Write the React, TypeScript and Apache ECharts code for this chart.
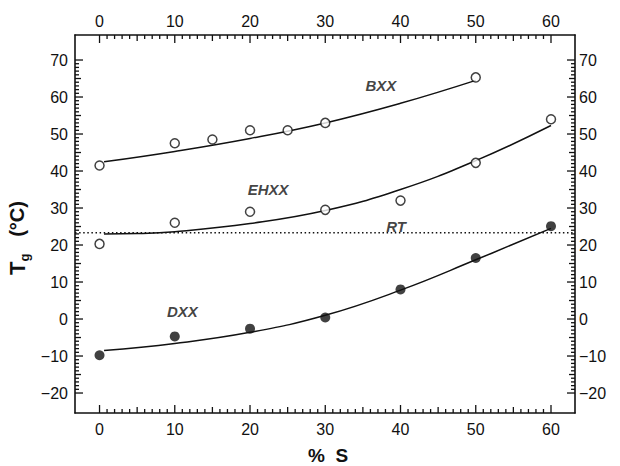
import React, { useEffect, useRef } from "react";
import * as echarts from "echarts";

// ---- data ----
const xMajor = [0, 10, 20, 30, 40, 50, 60];
const yMajor = [-20, -10, 0, 10, 20, 30, 40, 50, 60, 70];

const bxxX = [0, 10, 15, 20, 25, 30, 50];
const bxxY = [41.5, 47.5, 48.5, 51, 51, 53, 65.3];
const ehxxX = [0, 10, 20, 30, 40, 50, 60];
const ehxxY = [20.3, 26, 29, 29.5, 32, 42.2, 54];
const dxxX = [0, 10, 20, 30, 40, 50, 60];
const dxxY = [-9.8, -4.7, -2.6, 0.4, 8, 16.5, 25.1];

const bxxFitX = [0.6, 10, 20, 30, 40, 50];
const bxxFitY = [42.5, 45.3, 48.8, 53, 58.3, 64.5];
const ehxxFitX = [0.6, 5, 10, 20, 30, 40, 50, 60];
const ehxxFitY = [23, 23.1, 23.6, 25.8, 29.3, 35, 42.8, 52.3];
const dxxFitX = [0.6, 10, 20, 30, 40, 50, 60];
const dxxFitY = [-8.5, -6.6, -3.6, 1.0, 7.8, 16.0, 24.5];

const rtValue = 23.3;

const labelNames = ["BXX", "EHXX", "RT", "DXX"];
const labelX = [37.4, 22.4, 39.4, 11.0];
const labelY = [63.0, 35.1, 25.1, 1.9];

// ---- axis extents (the frame) ----
const X_MIN = -3.26;
const X_MAX = 63.19;
const Y_MIN = -25.4;
const Y_MAX = 76.76;

const W = 620;
const H = 466;

// tick marks: every unit, longer at 5s, longest at 10s
const tickLen = (v: number) => (v % 10 === 0 ? 8 : Math.abs(v % 5) === 0 ? 6 : 4);
const xTicks: number[][] = [];
for (let v = xMajor[0]; v <= xMajor[xMajor.length - 1]; v++) xTicks.push([v, tickLen(v)]);
const yTicks: number[][] = [];
for (let v = yMajor[0]; v <= yMajor[yMajor.length - 1]; v++) yTicks.push([v, tickLen(v)]);

const pairs = (xs: number[], ys: number[]) => xs.map((x, i) => [x, ys[i]]);

const FONT = "'Liberation Sans', Arial, Helvetica, sans-serif";
const INK = "#111";

function xAx(position: "top" | "bottom") {
  return {
    type: "value",
    position,
    min: X_MIN,
    max: X_MAX,
    axisLine: { show: true, onZero: false, lineStyle: { color: INK, width: 1.6 } },
    axisTick: { show: false },
    axisLabel: {
      show: true,
      customValues: xMajor,
      margin: position === "top" ? 6 : 8,
      color: INK,
      fontSize: 16,
      fontFamily: FONT,
    },
    splitLine: { show: false },
  };
}
function yAx(position: "left" | "right") {
  return {
    type: "value",
    position,
    min: Y_MIN,
    max: Y_MAX,
    axisLine: { show: true, onZero: false, lineStyle: { color: INK, width: 1.6 } },
    axisTick: { show: false },
    axisLabel: {
      show: true,
      customValues: yMajor,
      margin: position === "left" ? 7 : 4,
      color: INK,
      fontSize: 16,
      fontFamily: FONT,
      formatter: (v: number) => (v < 0 ? "\u2212" + Math.abs(v) : String(v)),
    },
    splitLine: { show: false },
  };
}

export default function App() {
  const ref = useRef<HTMLDivElement>(null);
  useEffect(() => {
    if (!ref.current) return;
    const chart = echarts.init(ref.current, null, { renderer: "svg" });
    const curve = (name: string, xs: number[], ys: number[]) => ({
      name,
      type: "line",
      data: pairs(xs, ys),
      smooth: 0.45,
      symbol: "none",
      lineStyle: { color: INK, width: 1.5 },
      z: 2,
    });
    const tickStyle = { stroke: INK, lineWidth: 1.3 };
    chart.setOption({
      animation: false,
      backgroundColor: "#fff",
      grid: { left: 75, right: 45, top: 35, bottom: 53 },
      xAxis: [xAx("bottom"), xAx("top")],
      yAxis: [yAx("left"), yAx("right")],
      graphic: [
        {
          type: "text",
          x: 17,
          y: 238,
          rotation: Math.PI / 2,
          style: {
            text: "{t|T}{g|g}{s|   (°C)}",
            align: "center",
            verticalAlign: "middle",
            fill: INK,
            rich: {
              t: { fontSize: 22, fontWeight: "bold", fontFamily: FONT, lineHeight: 28, fill: INK },
              g: { fontSize: 13, fontWeight: "bold", fontFamily: FONT, lineHeight: 14, verticalAlign: "bottom", fill: INK },
              s: { fontSize: 20, fontWeight: "bold", fontFamily: FONT, lineHeight: 28, fill: INK },
            },
          },
        },
        {
          type: "text",
          x: 328,
          y: 455,
          style: {
            text: "%  S",
            align: "center",
            verticalAlign: "middle",
            fontSize: 19,
            fontWeight: "bold",
            fontFamily: FONT,
            fill: INK,
          },
        },
      ],
      series: [
        {
          name: "xTicks",
          type: "custom",
          silent: true,
          data: xTicks,
          renderItem: (_p: any, api: any) => {
            const v = api.value(0);
            const len = api.value(1);
            const [x, yb] = api.coord([v, Y_MIN]);
            const yt = api.coord([v, Y_MAX])[1];
            return {
              type: "group",
              children: [
                { type: "line", shape: { x1: x, y1: yb, x2: x, y2: yb - len }, style: tickStyle },
                { type: "line", shape: { x1: x, y1: yt, x2: x, y2: yt + len }, style: tickStyle },
              ],
            };
          },
          z: 5,
        },
        {
          name: "yTicks",
          type: "custom",
          silent: true,
          data: yTicks,
          renderItem: (_p: any, api: any) => {
            const v = api.value(0);
            const len = api.value(1);
            const [xl, y] = api.coord([X_MIN, v]);
            const xr = api.coord([X_MAX, v])[0];
            return {
              type: "group",
              children: [
                { type: "line", shape: { x1: xl, y1: y, x2: xl + len, y2: y }, style: tickStyle },
                { type: "line", shape: { x1: xr, y1: y, x2: xr - len, y2: y }, style: tickStyle },
              ],
            };
          },
          z: 5,
        },
        {
          name: "RT",
          type: "line",
          data: [
            [X_MIN, rtValue],
            [X_MAX, rtValue],
          ],
          symbol: "none",
          lineStyle: { color: INK, width: 1.5, type: [1.5, 2.6] },
          z: 1,
        },
        curve("BXX fit", bxxFitX, bxxFitY),
        curve("EHXX fit", ehxxFitX, ehxxFitY),
        curve("DXX fit", dxxFitX, dxxFitY),
        {
          name: "BXX",
          type: "scatter",
          data: pairs(bxxX, bxxY),
          symbol: "circle",
          symbolSize: 9,
          itemStyle: { color: "#fff", borderColor: INK, borderWidth: 1.5 },
          z: 3,
        },
        {
          name: "EHXX",
          type: "scatter",
          data: pairs(ehxxX, ehxxY),
          symbol: "circle",
          symbolSize: 9,
          itemStyle: { color: "#fff", borderColor: INK, borderWidth: 1.5 },
          z: 3,
        },
        {
          name: "DXX",
          type: "scatter",
          data: pairs(dxxX, dxxY),
          symbol: "circle",
          symbolSize: 10,
          itemStyle: { color: INK },
          z: 3,
        },
        {
          name: "labels",
          type: "scatter",
          data: labelX.map((x, i) => ({ value: [x, labelY[i]], name: labelNames[i] })),
          symbolSize: 0,
          silent: true,
          label: {
            show: true,
            position: "inside",
            formatter: (p: any) => p.name,
            fontSize: 15,
            fontStyle: "italic",
            fontWeight: "bold",
            fontFamily: FONT,
            color: INK,
          },
          z: 4,
        },
      ],
    });
    return () => chart.dispose();
  }, []);
  return <div ref={ref} style={{ width: W, height: H, position: "absolute", left: 0, top: 0 }} />;
}
